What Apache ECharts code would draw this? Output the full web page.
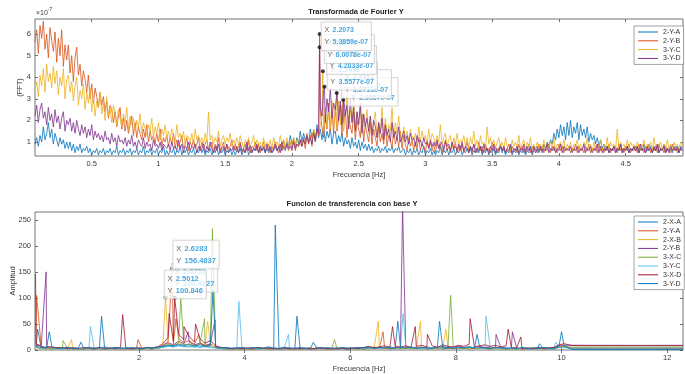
<!DOCTYPE html>
<html>
<head>
<meta charset="utf-8">
<script src="https://cdn.jsdelivr.net/npm/echarts@6/dist/echarts.min.js"></script>
<style>
  html, body { margin: 0; padding: 0; background: #fff; }
  #chart { width: 685px; height: 374px; }
</style>
</head>
<body>
<div id="chart"></div>
<script>
// ---------------------------------------------------------------
// Upper panel: FFT magnitude of the Y channels
// Uniform frequency bins starting at FFT_F0, spacing FFT_DF [Hz]
// Stored values are in units of 1e-8 (axis is drawn in 1e-7)
// ---------------------------------------------------------------
const FFT_F0 = 0.075;
const FFT_DF = 0.0125;

const fftNames = ['2-Y-A', '2-Y-B', '3-Y-C', '3-Y-D'];

const fft_2YA = [
  9,12,8,13,10,17,11,14,19,12, 16,9,14,11,8,12,9,11,7,10,
  7,10,6,9,5,8,6,9,5,7, 6,8,5,7,4,6,5,7,4,6,
  5,7,4,6,5,7,4,6,5,8, 4,6,5,7,4,6,5,7,4,6,
  5,7,4,6,5,8,4,6,5,7, 4,6,5,7,4,6,5,8,4,6,
  4,6,5,7,4,6,5,8,4,6, 5,7,4,6,5,7,4,6,5,8,
  5,7,4,6,5,7,4,6,5,8, 4,6,5,7,4,6,5,7,4,6,
  4,6,5,7,4,6,5,8,4,6, 5,7,6,8,5,7,6,8,5,7,
  5,7,5,6,8,6,7,9,6,8, 7,10,8,13,9,11,8,12,9,15,
  10,14,11,13,9,16,12,15,10,18, 12,16,11,17,10,15,12,16,9,14,
  15,9,13,10,14,8,12,9,11,7, 12,8,10,7,11,6,10,7,9,6,
  9,6,8,5,7,6,8,5,7,6, 8,5,7,6,8,5,7,6,8,5,
  5,7,4,6,5,7,4,6,5,7, 4,6,5,8,4,6,5,7,4,6,
  4,6,5,8,4,6,5,7,4,6, 5,7,4,6,5,8,4,6,5,7,
  5,7,4,6,5,7,5,8,4,6, 5,7,4,6,5,7,4,6,5,8,
  5,7,4,6,5,8,4,6,5,7, 4,6,5,7,4,6,5,8,4,6,
  6,8,5,7,6,9,7,10,8,11, 9,14,11,16,12,18,13,17,11,19,
  13,20,12,17,14,19,11,18,13,16, 12,17,10,14,11,13,9,12,8,11,
  7,9,6,8,5,7,6,8,5,7, 6,9,5,7,6,8,5,7,6,8,
  6,8,5,7,6,9,5,7,6,8, 5,7,6,8,5,7,6,9,5,7,
  6,7,5,8,6,7,5,8,6
];

const fft_2YB = [
  56,62,51,64,58,66,53,60,49,63, 57,52,61,47,58,50,62,45,55,48,
  55,42,50,38,49,54,41,46,36,43, 39,33,41,30,37,28,35,31,26,33,
  27,31,24,29,21,27,25,19,24,17, 22,26,16,21,15,20,14,18,22,13,
  19,12,17,14,11,16,12,18,10,15, 11,13,9,14,10,16,8,12,10,13,
  8,12,9,14,7,11,8,10,13,7, 9,12,6,10,8,11,7,9,12,6,
  10,7,9,11,6,8,10,5,9,7, 12,6,8,10,5,9,7,8,11,6,
  9,6,8,10,5,7,9,6,11,5, 8,7,10,6,9,5,8,10,6,7,
  9,5,8,6,10,7,5,9,6,11, 7,8,6,10,7,12,6,9,8,11,
  8,12,7,14,9,13,8,16,10,15, 13,24,17,12,22,16,28,15,24,14,
  26,15,21,27,13,19,25,12,22,17, 14,24,11,20,16,12,23,10,18,14,
  10,19,9,16,12,8,17,10,14,9, 18,8,13,11,7,16,9,12,8,15,
  7,13,9,6,12,8,11,6,10,7, 12,6,9,8,5,11,7,10,6,9,
  5,10,7,9,5,8,11,6,8,5, 9,7,10,5,8,6,9,5,7,10,
  6,8,5,9,7,5,10,6,8,5, 9,6,7,5,10,6,8,5,7,9,
  6,8,5,7,9,5,8,6,7,5, 9,6,8,5,7,6,9,5,8,6,
  7,5,9,6,8,5,7,6,9,5, 8,6,7,5,9,6,8,5,7,6,
  8,5,7,6,9,5,8,6,7,5, 8,6,9,5,7,6,8,5,9,6,
  7,5,8,6,9,5,7,6,8,5, 9,6,7,5,8,6,9,5,7,6,
  8,5,9,6,7,5,8,6,9,5, 7,6,8,5,9,6,7,5,8,6,
  7,5,9,6,8,5,7,6,8
];

const fft_3YC = [
  34,38,31,41,36,44,33,46,38,42, 35,45,37,43,32,40,36,44,30,39,
  41,33,38,29,36,40,27,34,30,37, 25,33,28,35,24,31,22,29,26,33,
  23,28,20,31,22,26,19,27,24,18, 25,21,17,23,19,26,16,22,18,21,
  15,20,17,23,14,19,16,13,18,15, 21,12,17,14,19,11,16,13,18,12,
  15,11,16,13,10,18,12,14,11,15, 9,13,12,10,14,9,16,11,13,10,
  12,9,14,10,24,11,13,9,12,10, 15,8,11,13,9,12,10,14,8,11,
  9,12,8,13,10,7,11,9,12,8, 10,13,7,11,9,10,7,12,8,10,
  8,11,7,12,9,10,8,13,9,11, 7,12,8,10,9,12,8,11,10,9,
  8,11,9,13,10,12,11,16,13,15, 14,18,21,15,26,17,23,16,29,17,
  24,16,29,18,27,15,22,32,17,25, 19,30,16,24,18,27,15,22,17,25,
  14,22,13,20,24,12,19,14,26,13, 21,12,18,15,26,12,19,14,22,13,
  11,17,12,15,10,16,13,11,14,9, 17,10,15,11,13,9,16,10,14,12,
  9,13,10,18,9,12,14,8,11,13, 7,12,9,14,8,11,10,13,8,12,
  7,12,9,15,8,11,7,13,9,10, 7,17,9,12,8,11,7,10,12,8,
  10,7,12,8,9,6,11,8,10,7, 13,7,9,11,6,10,8,12,7,9,
  6,10,8,9,7,11,6,9,8,10, 7,12,6,9,8,10,7,11,6,9,
  7,10,6,9,8,11,7,9,6,10, 8,12,7,9,6,10,7,9,8,11,
  6,9,7,12,6,10,8,9,6,16, 7,10,8,9,6,11,7,10,8,9,
  6,10,7,9,8,11,6,9,7,10, 6,12,7,9,8,10,6,9,7,11,
  7,9,6,10,8,9,7,10,8
];

const fft_3YD = [
  22,27,19,25,28,21,24,18,26,20, 23,17,25,19,22,16,21,24,15,20,
  18,21,15,19,14,20,16,13,18,14, 17,12,16,13,18,11,15,12,14,11,
  13,10,15,11,12,9,14,10,12,8, 13,10,11,9,12,8,11,9,13,8,
  10,7,11,9,8,12,7,10,8,9, 6,11,8,9,7,10,6,9,8,7,
  9,6,10,7,8,6,11,7,9,5, 8,7,10,6,8,7,9,5,8,6,
  7,9,5,8,6,10,7,5,8,6, 9,5,7,8,6,9,5,7,6,8,
  6,8,5,9,6,7,5,10,6,8, 5,7,6,9,5,8,6,7,5,9,
  6,8,5,7,9,6,8,5,10,7, 6,9,7,8,6,10,7,9,8,11,
  8,11,9,13,10,12,9,14,11,16, 14,26,22,34,19,30,24,35,21,28,
  25,33,20,29,18,31,22,27,16,30, 19,26,15,24,18,28,14,23,17,21,
  15,22,13,20,17,12,19,14,21,11, 18,13,16,10,19,12,15,11,17,10,
  12,15,10,13,9,14,11,12,8,13, 10,11,8,12,9,10,7,11,8,10,
  8,11,7,10,9,6,10,8,9,6, 10,7,8,6,9,7,10,6,8,7,
  5,8,6,9,5,7,6,8,5,9, 6,7,5,8,6,9,5,7,6,8,
  6,8,5,7,6,9,5,7,6,8, 5,7,6,9,5,8,6,7,5,8,
  5,7,6,8,5,7,6,9,5,7, 6,8,5,7,6,9,5,8,6,7,
  6,8,5,7,6,8,5,7,6,9, 5,7,6,8,5,7,6,9,5,8,
  5,7,6,8,5,7,6,8,5,7, 6,9,5,7,6,8,5,7,6,8,
  6,8,5,9,6,7,5,8,6,7, 5,8,6,9,5,7,6,8,5,7,
  5,8,6,7,6,8,5,7,6
];

// Data tips of the upper panel (frequency, magnitude x1e-7, owning curve)
const fftTipSeries = ['3-Y-D', '2-Y-B', '3-Y-C', '3-Y-D', '3-Y-C', '2-Y-B'];
const fftTipF = [2.2073, 2.2073, 2.2317, 2.2439, 2.3354, 2.3842];
const fftTipV = [5.3859, 6.0078, 4.2833, 3.5577, 3.2713, 2.9557];

const fftXTicks = [0.5, 1, 1.5, 2, 2.5, 3, 3.5, 4, 4.5];
const fftYTicks = [1, 2, 3, 4, 5, 6];

// ---------------------------------------------------------------
// Lower panel: transfer functions with Y base (amplitude)
// Coarse floor sampled from TF_F0 with step TF_DF, plus peaks
// ---------------------------------------------------------------
const TF_F0 = 0.05;
const TF_DF = 0.1;
const tfTailF = [10.2, 10.6, 11.0, 11.5, 12.0, 12.3];

const tfNames = ['2-X-A', '2-Y-A', '2-X-B', '2-Y-B', '3-X-C', '3-Y-C', '3-X-D', '3-Y-D'];

const tf_2XA = [
  6,3,4,2,3,2,4,2,3,2, 3,2,4,2,3,2,3,4,2,3, 2,3,2,4,5,8,6,9,7,6, 8,5,7,6,4,3,2,3,2,4,
  2,3,2,3,5,2,3,2,4,2, 3,2,3,2,4,2,3,2,3,2, 4,3,2,3,5,3,4,2,3,4, 3,5,3,4,2,3,4,2,3,5,
  3,4,2,3,4,3,2,4,3,2, 3,2,4,2,3,2,4,3,2,5, 6
];
const tf_2YA = [
  9,5,4,3,5,3,2,4,3,2, 3,4,2,3,2,4,3,2,3,2, 4,3,2,5,9,16,12,22,14,18, 11,15,9,12,5,3,4,2,3,2,
  3,2,4,3,2,3,2,4,2,3, 2,3,2,4,2,3,2,3,4,2, 3,5,2,4,6,3,5,3,4,3, 5,3,4,6,3,4,2,5,3,4,
  6,3,5,4,3,5,4,3,4,3, 2,3,2,4,2,3,2,3,4,6, 7
];
const tf_2XB = [
  4,3,2,3,2,3,4,2,3,2, 2,3,2,4,2,3,2,3,2,4, 3,2,4,3,7,12,9,14,10,11, 8,13,7,10,4,3,2,3,2,3,
  2,3,2,4,2,3,2,3,2,3, 3,2,4,2,3,2,3,2,4,3, 2,3,4,5,3,4,2,3,4,2, 4,3,5,3,4,2,3,4,3,5,
  3,4,2,3,5,3,4,3,2,3, 2,3,2,3,2,3,2,4,3,5, 6
];
const tf_2YB = [
  8,10,7,5,4,3,4,3,2,3, 4,2,3,2,3,4,2,3,2,3, 2,4,3,4,8,14,10,17,12,15, 10,13,8,11,6,4,3,2,3,2,
  3,2,3,4,2,3,2,3,2,4, 2,3,2,3,4,2,3,2,3,2, 3,2,4,6,3,5,4,3,5,4, 6,4,5,3,6,4,5,7,4,5,
  8,5,6,4,7,5,6,4,5,4, 3,4,2,3,2,4,3,2,4,8, 9
];
const tf_3XC = [
  5,3,2,3,4,2,3,2,3,2, 3,2,3,2,4,2,3,2,3,2, 2,3,2,4,6,11,8,13,9,12, 7,10,8,9,5,3,2,3,2,3,
  2,3,2,3,2,4,2,3,2,3, 2,3,4,2,3,2,3,2,3,2, 3,2,3,4,3,5,3,4,3,2, 4,3,4,2,5,3,4,3,5,3,
  4,3,5,3,4,3,2,4,3,2, 3,2,3,2,4,3,2,3,4,5, 6
];
const tf_3YC = [
  6,4,3,5,3,2,4,3,2,3, 2,4,3,2,3,2,4,3,2,3, 3,2,4,3,5,7,6,8,6,7, 5,7,6,5,4,3,2,4,3,2,
  3,4,2,3,4,2,3,4,3,2, 4,3,2,3,4,3,2,3,2,4, 3,4,3,5,4,3,5,6,4,3, 5,4,6,3,5,4,3,5,6,4,
  5,4,6,5,4,3,5,4,3,4, 3,2,4,3,2,4,3,2,3,5, 4
];
const tf_3XD = [
  12,7,5,6,4,5,3,4,3,5, 4,3,5,3,4,3,5,4,3,4, 3,5,4,6,12,24,17,30,20,26, 15,22,13,18,8,5,4,3,4,3,
  4,3,5,3,4,2,3,4,3,2, 3,4,2,3,4,3,2,4,3,2, 4,3,5,7,4,6,8,5,7,6, 8,5,7,9,6,8,5,10,7,6,
  9,7,11,6,8,10,7,9,6,8, 5,4,3,4,3,5,3,4,5,10, 12
];
const tf_3YD = [
  7,5,4,6,3,4,5,3,4,3, 5,3,4,6,3,5,4,3,5,4, 3,5,4,6,7,9,8,11,9,10, 8,10,7,9,6,4,5,3,4,5,
  3,5,4,3,6,4,3,5,4,3, 5,3,4,6,3,5,4,3,5,4, 3,5,4,6,3,5,4,6,3,5, 4,6,3,5,4,3,6,4,5,3,
  5,4,6,3,5,4,3,5,4,3, 4,3,5,3,4,3,5,4,3,6, 8
];

// Flat response above ~10 Hz (values at tfTailF)
const tfTail_2XA = [1.9, 1.8, 1.8, 1.9, 1.9, 1.8];
const tfTail_2YA = [3.3, 3.2, 3.2, 3.1, 3.2, 3.2];
const tfTail_2XB = [4.6, 4.5, 4.5, 4.4, 4.5, 4.5];
const tfTail_2YB = [9.2, 9.0, 9.0, 8.9, 9.0, 9.0];
const tfTail_3XC = [5.6, 5.5, 5.5, 5.4, 5.5, 5.5];
const tfTail_3YC = [3.9, 3.8, 3.8, 3.7, 3.8, 3.8];
const tfTail_3XD = [8.6, 8.3, 8.3, 8.2, 8.3, 8.3];
const tfTail_3YD = [1.3, 1.2, 1.2, 1.2, 1.2, 1.2];

// Isolated peaks [frequency, amplitude]
const tfPeaks_2XA = [[0.08, 40], [1.29, 65], [4.58, 240], [4.99, 65], [9.58, 12]];
const tfPeaks_2YA = [[0.06, 105], [1.98, 20], [2.6283, 156.4837], [2.70, 60], [3.13, 30], [6.62, 35]];
const tfPeaks_2XB = [[0.72, 20], [2.5012, 100.846], [3.30, 55], [6.53, 55], [7.33, 55], [7.81, 40]];
const tfPeaks_2YB = [[0.24, 150], [2.93, 35], [3.44, 58], [6.99, 275], [8.76, 30], [9.07, 35]];
const tfPeaks_3XC = [[0.56, 18], [2.79, 100], [3.24, 60], [3.39, 233], [5.7, 20], [7.9, 105]];
const tfPeaks_3YC = [[1.08, 45], [3.89, 93], [4.83, 30], [7.0, 70], [8.57, 65], [9.89, 15]];
const tfPeaks_3XD = [[0.04, 146], [1.69, 68], [2.57, 70], [2.6751, 100.4127], [2.85, 45], [3.07, 50],
                     [6.8, 45], [7.23, 45], [7.46, 30], [8.27, 60], [8.99, 40], [9.23, 25]];
const tfPeaks_3YD = [[0.30, 35], [0.9, 15], [3.40, 115], [5.3, 15], [6.9, 55], [7.69, 55], [8.4, 30], [10.0, 35]];

// Data tips of the lower panel (front-most first)
const tfTipSeries = ['2-X-B', '2-Y-A', '3-X-D'];
const tfTipF = [2.5012, 2.6283, 2.6751];
const tfTipV = [100.846, 156.4837, 100.4127];

const tfXTicks = [2, 4, 6, 8, 10, 12];
const tfYTicks = [0, 50, 100, 150, 200, 250];

// ---------------------------------------------------------------
// Styling
// ---------------------------------------------------------------
const FONT = 'Liberation Sans, Arial, Helvetica, sans-serif';
const AXIS_COLOR = '#505050';
const LABEL_COLOR = '#3a3a3a';
const TIP_BLUE = '#1b8fd6';
const PALETTE = {
  '2-Y-A': '#0072BD', '2-Y-B': '#D95319', '3-Y-C': '#EDB120', '3-Y-D': '#7E2F8E'
};
const PALETTE_TF = {
  '2-X-A': '#0072BD', '2-Y-A': '#D95319', '2-X-B': '#EDB120', '2-Y-B': '#7E2F8E',
  '3-X-C': '#77AC30', '3-Y-C': '#4DBEEE', '3-X-D': '#A2142F', '3-Y-D': '#0072BD'
};

// Merge uniformly sampled values with extra [f, v] points, sorted by frequency
function curve(f0, df, values, extra, scale) {
  const k = scale || 1;
  const pts = values.map((v, i) => [+(f0 + i * df).toFixed(4), v * k]);
  (extra || []).forEach(p => pts.push([p[0], p[1]]));
  return pts.sort((a, b) => a[0] - b[0]);
}

const fftValues = { '2-Y-A': fft_2YA, '2-Y-B': fft_2YB, '3-Y-C': fft_3YC, '3-Y-D': fft_3YD };
const tfFloor = { '2-X-A': tf_2XA, '2-Y-A': tf_2YA, '2-X-B': tf_2XB, '2-Y-B': tf_2YB,
                  '3-X-C': tf_3XC, '3-Y-C': tf_3YC, '3-X-D': tf_3XD, '3-Y-D': tf_3YD };
const tfTail = { '2-X-A': tfTail_2XA, '2-Y-A': tfTail_2YA, '2-X-B': tfTail_2XB, '2-Y-B': tfTail_2YB,
                 '3-X-C': tfTail_3XC, '3-Y-C': tfTail_3YC, '3-X-D': tfTail_3XD, '3-Y-D': tfTail_3YD };
const tfPeaks = { '2-X-A': tfPeaks_2XA, '2-Y-A': tfPeaks_2YA, '2-X-B': tfPeaks_2XB, '2-Y-B': tfPeaks_2YB,
                  '3-X-C': tfPeaks_3XC, '3-Y-C': tfPeaks_3YC, '3-X-D': tfPeaks_3XD, '3-Y-D': tfPeaks_3YD };

const series = [];

fftNames.forEach(name => {
  const tips = [];
  fftTipSeries.forEach((s, k) => { if (s === name) tips.push([fftTipF[k], fftTipV[k]]); });
  series.push({
    name, type: 'line', xAxisIndex: 0, yAxisIndex: 0,
    data: curve(FFT_F0, FFT_DF, fftValues[name], tips, 0.1),   // 1e-8 -> 1e-7 units
    showSymbol: false, symbol: 'none', silent: true,
    lineStyle: { width: 0.8, color: PALETTE[name] },
    itemStyle: { color: PALETTE[name] },
    z: 2
  });
});

tfNames.forEach(name => {
  const tail = tfTailF.map((f, k) => [f, tfTail[name][k]]);
  series.push({
    name, type: 'line', xAxisIndex: 2, yAxisIndex: 2,
    data: curve(TF_F0, TF_DF, tfFloor[name], tfPeaks[name].concat(tail)),
    showSymbol: false, symbol: 'none', silent: true,
    lineStyle: { width: 0.8, color: PALETTE_TF[name] },
    itemStyle: { color: PALETTE_TF[name] },
    z: 2
  });
});

// Data-tip boxes: label offsets relative to the marker
const fftTipOffset = [[4, -23], [7, 3], [6, -23], [5, -23], [7, -21], [7, -20]];
const tfTipOffset = [[1, -25], [3, -26], [-1, -32]];

function tipSeries(xIdx, yIdx, fs, vs, offsets, fmtY, fontSize, lineH) {
  const order = fs.map((_, k) => k).reverse(); // first tip painted last (on top)
  return {
    type: 'scatter', xAxisIndex: xIdx, yAxisIndex: yIdx, silent: true, z: 10,
    symbol: 'circle', symbolSize: 4,
    itemStyle: { color: '#111' },
    data: order.map(k => ({
      value: [fs[k], vs[k]],
      label: { position: offsets[k] }
    })),
    label: {
      show: true, align: 'left', verticalAlign: 'top',
      backgroundColor: 'rgba(255,255,255,0.96)',
      borderColor: '#c4c4c4', borderWidth: 0.8,
      padding: [2, 3, 2, 3],
      formatter: p => '{k|X} {v|' + p.value[0].toFixed(4) + '}\n{k|Y} {v|' + fmtY(p.value[1]) + '}',
      rich: {
        k: { fontSize, lineHeight: lineH, color: '#333', fontFamily: FONT },
        v: { fontSize, lineHeight: lineH, color: TIP_BLUE, fontWeight: 'bold', fontFamily: FONT }
      }
    }
  };
}

series.push(tipSeries(0, 0, fftTipF, fftTipV, fftTipOffset, v => v.toFixed(4) + 'e-07', 7, 9));
series.push(tipSeries(2, 2, tfTipF, tfTipV, tfTipOffset, v => String(+v.toFixed(4)), 7.5, 10));

function xAxisPair(gridIndex, min, max, ticks, name) {
  return [
    {
      type: 'value', gridIndex, position: 'bottom', min, max,
      name, nameLocation: 'middle', nameGap: 15, nameMoveOverlap: false,
      nameTextStyle: { fontSize: 7.5, color: LABEL_COLOR, fontFamily: FONT },
      axisLine: { show: false },
      axisTick: { show: true, inside: true, length: 3, customValues: ticks, lineStyle: { color: AXIS_COLOR, width: 0.8 } },
      axisLabel: { show: true, customValues: ticks, fontSize: 7.5, color: LABEL_COLOR, margin: 4, fontFamily: FONT },
      splitLine: { show: false }
    },
    {
      type: 'value', gridIndex, position: 'top', min, max,
      axisLine: { show: false },
      axisTick: { show: true, inside: true, length: 3, customValues: ticks, lineStyle: { color: AXIS_COLOR, width: 0.8 } },
      axisLabel: { show: false },
      splitLine: { show: false }
    }
  ];
}

function yAxisPair(gridIndex, min, max, ticks, name, nameGap) {
  return [
    {
      type: 'value', gridIndex, position: 'left', min, max,
      name, nameLocation: 'middle', nameGap, nameRotate: 90, nameMoveOverlap: false,
      nameTextStyle: { fontSize: 7.5, color: LABEL_COLOR, fontFamily: FONT },
      axisLine: { show: false },
      axisTick: { show: true, inside: true, length: 3, customValues: ticks, lineStyle: { color: AXIS_COLOR, width: 0.8 } },
      axisLabel: { show: true, customValues: ticks, fontSize: 7.5, color: LABEL_COLOR, margin: 4, fontFamily: FONT },
      splitLine: { show: false }
    },
    {
      type: 'value', gridIndex, position: 'right', min, max,
      axisLine: { show: false },
      axisTick: { show: true, inside: true, length: 3, customValues: ticks, lineStyle: { color: AXIS_COLOR, width: 0.8 } },
      axisLabel: { show: false },
      splitLine: { show: false }
    }
  ];
}

function legendBox(names, colors, top) {
  return {
    orient: 'vertical', left: 634, top,
    data: names.map(n => ({ name: n, itemStyle: { color: colors[n] } })),
    icon: 'rect', itemWidth: 20, itemHeight: 1, itemGap: 0.8,
    selectedMode: false,
    textStyle: { fontSize: 7, lineHeight: 8, color: '#333', fontFamily: FONT, padding: [0, 0, 0, 0] },
    backgroundColor: '#fff', borderColor: '#8a8a8a', borderWidth: 0.8,
    padding: [2, 3, 2, 4]
  };
}

const option = {
  animation: false,
  backgroundColor: '#fff',
  textStyle: { fontFamily: FONT },
  grid: [
    { left: 35, right: 2, top: 19, height: 137, show: true, borderColor: AXIS_COLOR, borderWidth: 0.8,
      backgroundColor: '#fff', containLabel: false, outerBoundsMode: 'none' },
    { left: 35, right: 2, top: 212, height: 138, show: true, borderColor: AXIS_COLOR, borderWidth: 0.8,
      backgroundColor: '#fff', containLabel: false, outerBoundsMode: 'none' }
  ],
  xAxis: [
    ...xAxisPair(0, 0.075, 4.93, fftXTicks, 'Frecuencia [Hz]'),
    ...xAxisPair(1, 0.03, 12.3, tfXTicks, 'Frecuencia [Hz]')
  ],
  yAxis: [
    ...yAxisPair(0, 0.35, 6.7, fftYTicks, '(FFT)', 11),
    ...yAxisPair(1, 0, 265, tfYTicks, 'Amplitud', 18)
  ],
  legend: [
    legendBox(fftNames, PALETTE, 26),
    legendBox(tfNames, PALETTE_TF, 216)
  ],
  graphic: [
    { type: 'text', x: 356, y: 12, silent: true,
      style: { text: 'Transformada de Fourier Y', fontSize: 7.5, fontWeight: 'bold', fontFamily: FONT,
               fill: '#222', align: 'center', verticalAlign: 'middle' } },
    { type: 'text', x: 352, y: 204, silent: true,
      style: { text: 'Funcion de transferencia con base Y', fontSize: 7.5, fontWeight: 'bold', fontFamily: FONT,
               fill: '#222', align: 'center', verticalAlign: 'middle' } },
    { type: 'text', x: 36, y: 13, silent: true,
      style: { text: '\u00d710', fontSize: 7, fontFamily: FONT, fill: LABEL_COLOR, align: 'left', verticalAlign: 'middle' } },
    { type: 'text', x: 47.5, y: 9.5, silent: true,
      style: { text: '-7', fontSize: 5.5, fontFamily: FONT, fill: LABEL_COLOR, align: 'left', verticalAlign: 'middle' } }
  ],
  series
};

const chart = echarts.init(document.getElementById('chart'), null, { renderer: 'canvas' });
chart.setOption(option);
</script>
</body>
</html>
